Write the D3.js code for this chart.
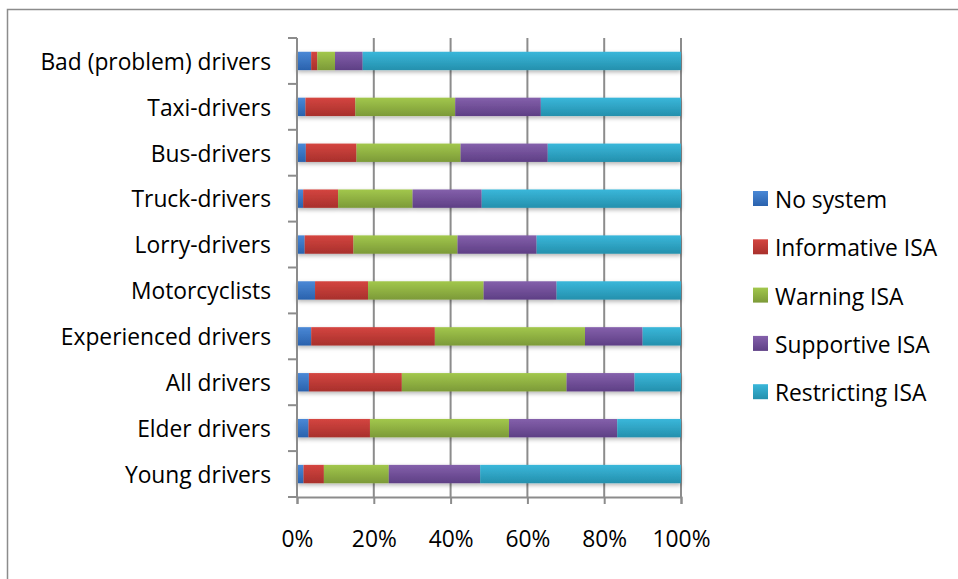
<!DOCTYPE html>
<html>
<head>
<meta charset="utf-8">
<script src="https://cdn.jsdelivr.net/npm/d3@7"></script>
<style>
  body { margin: 0; background: #fff; }
  svg text { font-family: "Open Sans", sans-serif; fill: #000; }
</style>
</head>
<body>
<div id="container"></div>
<script>
// categories from top to bottom
const groups = ["Bad (problem) drivers", "Taxi-drivers", "Bus-drivers", "Truck-drivers",
  "Lorry-drivers", "Motorcyclists", "Experienced drivers", "All drivers", "Elder drivers", "Young drivers"];
const systems = ["No system", "Informative ISA", "Warning ISA", "Supportive ISA", "Restricting ISA"];

// shares in %
const noSystem =    [3.7, 2.2, 2.3, 1.6, 2.0, 4.7, 3.7, 3.1, 3.0, 1.7];
const informative = [1.6, 13.0, 13.2, 9.1, 12.7, 13.8, 32.2, 24.2, 16.0, 5.3];
const warning =     [4.6, 26.0, 27.1, 19.4, 27.1, 30.1, 39.1, 42.9, 36.2, 16.9];
const supportive =  [7.2, 22.3, 22.7, 18.0, 20.6, 19.0, 15.0, 17.7, 28.2, 23.8];
const restricting = [82.9, 36.5, 34.7, 51.9, 37.6, 32.4, 10.0, 12.1, 16.6, 52.3];
const xTicks = [0, 20, 40, 60, 80, 100];

const colors = [["#4a88d6", "#2a62ad"], ["#d44540", "#a8302c"], ["#a2c74c", "#7c9a38"],
  ["#8460ab", "#5e3f85"], ["#3ab7da", "#2490ad"]];

const width = 958, height = 579;
const svg = d3.select("#container").append("svg")
  .attr("width", width).attr("height", height);

const defs = svg.append("defs");
colors.forEach((c, i) => {
  const g = defs.append("linearGradient").attr("id", "grad" + i)
    .attr("x1", 0).attr("y1", 0).attr("x2", 0).attr("y2", 1);
  g.append("stop").attr("offset", "0%").attr("stop-color", c[0]);
  g.append("stop").attr("offset", "100%").attr("stop-color", c[1]);
});
const shadow = defs.append("filter").attr("id", "shadow")
  .attr("x", "-5%").attr("y", "-50%").attr("width", "110%").attr("height", "250%");
shadow.append("feDropShadow").attr("dx", 0).attr("dy", 2).attr("stdDeviation", 2)
  .attr("flood-color", "#000").attr("flood-opacity", 0.3);

// frame
svg.append("rect").attr("x", 7.5).attr("y", 9.5).attr("width", 1000).attr("height", 1000)
  .attr("fill", "none").attr("stroke", "#8c8c8c").attr("stroke-width", 1.5);

const margin = { left: 297, right: 277, top: 38, bottom: 82 };
const x = d3.scaleLinear().domain([0, 100]).range([margin.left, width - margin.right]);
const y = d3.scaleBand().domain(groups).range([margin.top, height - margin.bottom]).paddingInner(0.6).paddingOuter(0.3);
const band = d3.scaleBand().domain(groups).range([margin.top, height - margin.bottom]);

const table = groups.map((g, i) => ({
  group: g,
  "No system": noSystem[i],
  "Informative ISA": informative[i],
  "Warning ISA": warning[i],
  "Supportive ISA": supportive[i],
  "Restricting ISA": restricting[i]
}));
const stacked = d3.stack().keys(systems)(table);

// gridlines
svg.append("g").selectAll("line").data(xTicks.slice(1)).join("line")
  .attr("x1", d => x(d)).attr("x2", d => x(d))
  .attr("y1", margin.top).attr("y2", height - margin.bottom)
  .attr("stroke", "#8c8c8c").attr("stroke-width", 2);

// bars
svg.append("g").attr("filter", "url(#shadow)")
  .selectAll("g").data(stacked).join("g")
  .attr("fill", (d, i) => `url(#grad${i})`)
  .selectAll("rect").data(d => d).join("rect")
  .attr("x", d => x(d[0]))
  .attr("width", d => x(d[1]) - x(d[0]))
  .attr("y", d => y(d.data.group))
  .attr("height", y.bandwidth());

// left axis
const yAxis = svg.append("g")
  .attr("transform", `translate(${margin.left},1.5)`)
  .call(d3.axisLeft(band).tickSize(0).tickPadding(26));
yAxis.select(".domain").remove();
yAxis.selectAll("text").style("font-size", "22.8px");
svg.append("line")
  .attr("x1", margin.left).attr("x2", margin.left)
  .attr("y1", margin.top).attr("y2", height - margin.bottom)
  .attr("stroke", "#8c8c8c").attr("stroke-width", 2);
svg.append("g").selectAll("line")
  .data(groups.map(g => band(g)).concat([height - margin.bottom])).join("line")
  .attr("x1", margin.left - 9).attr("x2", margin.left)
  .attr("y1", d => d).attr("y2", d => d)
  .attr("stroke", "#8c8c8c").attr("stroke-width", 2);

// bottom axis
const xAxis = svg.append("g")
  .attr("transform", `translate(0,${height - margin.bottom})`)
  .call(d3.axisBottom(x).tickValues(xTicks).tickFormat(d => d + "%").tickSize(7).tickPadding(27));
xAxis.select(".domain").attr("stroke", "#8c8c8c").attr("stroke-width", 2);
xAxis.selectAll(".tick line").attr("stroke", "#8c8c8c").attr("stroke-width", 2);
xAxis.selectAll("text").style("font-size", "22.8px");

// legend
const legend = svg.append("g").attr("transform", "translate(753,199)");
const item = legend.selectAll("g").data(systems).join("g")
  .attr("transform", (d, i) => `translate(0,${i * 48.3})`);
item.append("rect").attr("x", 0).attr("y", -8).attr("width", 15).attr("height", 15)
  .attr("fill", (d, i) => `url(#grad${i})`);
item.append("text").attr("x", 22).attr("y", 1).attr("dy", "0.35em")
  .style("font-size", "22.8px").text(d => d);
</script>
</body>
</html>
